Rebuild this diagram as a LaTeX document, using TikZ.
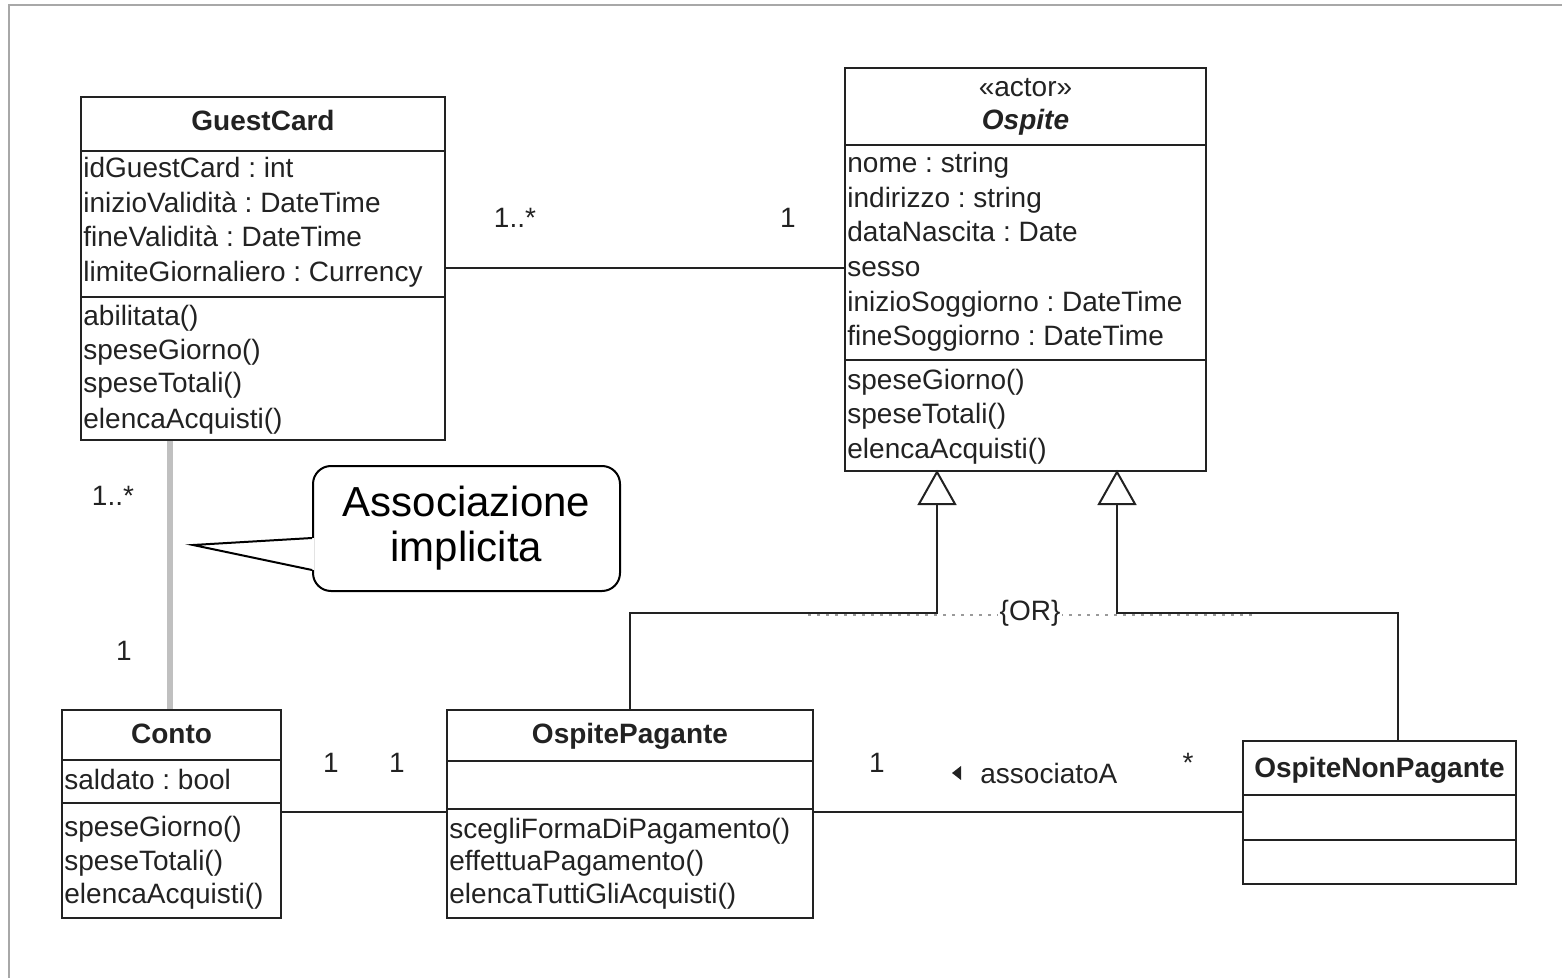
\documentclass[tikz,border=0pt]{standalone}
\usepackage{fontspec}
\setmainfont{Liberation Sans}
\usetikzlibrary{calc}
\frenchspacing
\definecolor{ink}{HTML}{222222}
\definecolor{framegray}{HTML}{A8A8A8}
\definecolor{implgray}{HTML}{C0C0C0}
\definecolor{orgray}{HTML}{9A9A9A}
\tikzset{
  cls/.style={draw=ink, line width=1pt, inner sep=0pt},
  sepline/.style={draw=ink, line width=1pt},
  attr/.style={anchor=base west, inner sep=0pt, text=ink, font=\frenchspacing\fontsize{14}{17}\selectfont},
  ttl/.style={anchor=base, inner sep=0pt, text=ink, font=\bfseries\fontsize{14}{17}\selectfont},
  mult/.style={anchor=base, inner sep=0pt, text=ink, font=\fontsize{14}{17}\selectfont},
  link/.style={draw=ink, line width=1pt},
  gentri/.style={draw=ink, line width=1pt, fill=white, line join=miter},
  callout/.style={draw=black, line width=1pt, rounded corners=9pt, fill=white, inner sep=0pt,
    align=center, font=\fontsize{21}{22.5}\selectfont},
}
\begin{document}
\begin{tikzpicture}[x=0.5pt,y=-0.5pt]
\useasboundingbox (0,0) rectangle (1562,978);
% frame
\draw[framegray, line width=1pt] (9,978) -- (9,5) -- (1562,5);

% ---------- GuestCard ----------
\node[cls, minimum width=182pt, minimum height=171.5pt] (gc) at (263,268.5) {};
\draw[sepline] (81,151) -- (445,151);
\draw[sepline] (81,297) -- (445,297);
\node[ttl] (gct) at (263,131) {GuestCard};
\foreach \t/\y [count=\i] in {idGuestCard : int/178, inizioValidità : DateTime/213,
  fineValidità : DateTime/247, limiteGiornaliero : Currency/282,
  abilitata()/326, speseGiorno()/359, speseTotali()/393, elencaAcquisti()/428}
  \node[attr] (gca\i) at (83,\y) {\t};

% ---------- Ospite ----------
\node[cls, minimum width=180.5pt, minimum height=201.5pt] (osp) at (1025.5,269.5) {};
\draw[sepline] (845,145) -- (1206,145);
\draw[sepline] (845,360) -- (1206,360);
\node[mult] (ospst) at (1025.5,97) {«actor»};
\node[ttl, font=\bfseries\itshape\fontsize{14}{17}\selectfont] (ospt) at (1025.5,130) {Ospite};
\foreach \t/\y [count=\i] in {nome : string/173, indirizzo : string/208,
  dataNascita : Date/242, sesso/277, inizioSoggiorno : DateTime/312,
  fineSoggiorno : DateTime/346, speseGiorno()/389, speseTotali()/423, elencaAcquisti()/458}
  \node[attr] (ospa\i) at (847,\y) {\t};

% ---------- Conto ----------
\node[cls, minimum width=109.5pt, minimum height=104pt] (conto) at (171.5,814) {};
\draw[sepline] (62,760) -- (281,760);
\draw[sepline] (62,803) -- (281,803);
\node[ttl] (contot) at (171.5,743) {Conto};
\foreach \t/\y [count=\i] in {saldato : bool/789, speseGiorno()/836,
  speseTotali()/870, elencaAcquisti()/903}
  \node[attr] (contoa\i) at (64,\y) {\t};

% ---------- OspitePagante ----------
\node[cls, minimum width=183pt, minimum height=104pt] (op) at (630,814) {};
\draw[sepline] (447,761) -- (813,761);
\draw[sepline] (447,809) -- (813,809);
\node[ttl] (opt) at (630,743) {OspitePagante};
\foreach \t/\y [count=\i] in {scegliFormaDiPagamento()/838,
  effettuaPagamento()/870, elencaTuttiGliAcquisti()/903}
  \node[attr] (opa\i) at (449,\y) {\t};

% ---------- OspiteNonPagante ----------
\node[cls, minimum width=136.5pt, minimum height=71.5pt] (onp) at (1379.5,812.5) {};
\draw[sepline] (1243,795) -- (1516,795);
\draw[sepline] (1243,840) -- (1516,840);
\node[ttl] (onpt) at (1379.5,777) {OspiteNonPagante};

% ---------- associations ----------
\draw[link] (gc.east) -- (gc.east -| osp.west);
\node[mult] (m1) at (515,228) {1..*};
\node[mult] (m2) at (788,228) {1};

\coordinate (gcb) at ($(gc.south west)+(90,0)$);
\draw[implgray, line width=3pt] (gcb) -- (gcb |- conto.north);
\node[mult] (m3) at (113,505) {1..*};
\node[mult] (m4) at (124,660) {1};

\draw[link] (conto.east |- 0,812) -- (op.west |- 0,812);
\node[mult] (m5) at (331,772) {1};
\node[mult] (m6) at (397,772) {1};

\draw[link] (op.east |- 0,812) -- (onp.west |- 0,812);
\node[mult] (m7) at (877,772) {1};
\node[mult] (m8) at (1188,772) {*};
\node[mult, anchor=base west] (assoc) at (980,783) {associatoA};
\fill[ink] ($(assoc.west)+(-28,0)$) -- ++(9,-7) -- ++(0,14) -- cycle;

% ---------- generalization ----------
\coordinate (a1) at (osp.south -| 937,0);
\coordinate (a2) at (osp.south -| 1117,0);
\coordinate (j1) at (937,613);
\coordinate (j2) at (1117,613);
\draw[orgray, line width=1pt, dash pattern=on 1.5pt off 3pt] (808,615) -- (1258,615);
\draw[link] ($(a1)+(0,32)$) -- (j1) -| (op.north);
\draw[link] ($(a2)+(0,32)$) -- (j2) -| ($(onp.north)+(18.5,0)$);
\draw[gentri] (a1) -- ++(-18,32) -- ++(36,0) -- cycle;
\draw[gentri] (a2) -- ++(-18,32) -- ++(36,0) -- cycle;
\node[fill=white, inner sep=1pt, text=ink, font=\fontsize{14}{17}\selectfont] (orc) at (1030,613) {\{OR\}};

% ---------- callout ----------
\node[callout, minimum width=153.5pt, minimum height=62.5pt] (note) at (466.5,528.5) {Associazione\\implicita};
\coordinate (tip) at (193,545);
\fill[white] ($(note.west |- 0,538)+(2,0)$) -- (tip) -- ($(note.west |- 0,570)+(2,0)$) -- cycle;
\draw[black, line width=1pt, line join=miter] (note.west |- 0,538) -- (tip) -- (note.west |- 0,570);
\end{tikzpicture}
\end{document}
